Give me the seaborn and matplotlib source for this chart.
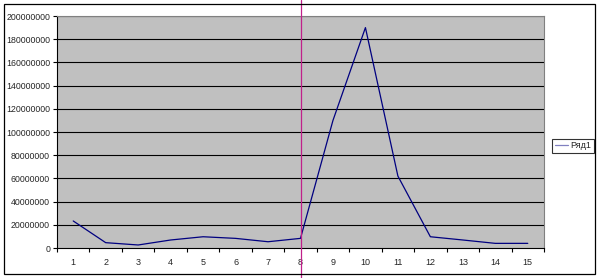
import matplotlib
matplotlib.use("Agg")
import matplotlib.pyplot as plt
import matplotlib.transforms as mtrans
from matplotlib.patches import Rectangle
import seaborn as sns
import pandas as pd

categories = list(range(1, 16))
values = [23300000, 4600000, 2600000, 6900000, 9700000, 8300000, 5400000, 8300000,
          110000000, 190000000, 62000000, 9700000, 6900000, 4000000, 4000000]
series_name = "Ряд1"
y_ticks = list(range(0, 200000001, 20000000))
marker_category = 8

sns.set_theme(style="white")
plt.rcParams['font.family'] = ['Liberation Sans', 'DejaVu Sans']

df = pd.DataFrame({"x": categories, "y": values, "s": series_name})

fig = plt.figure(figsize=(6, 2.78), dpi=100)
fig.patch.set_facecolor("white")
ax = fig.add_axes([57/600, 30/278, (544-57)/600, (248-16)/278])
ax.set_facecolor("#c0c0c0")

sns.lineplot(data=df, x="x", y="y", hue="s", palette=["#000080"], linewidth=0.9, ax=ax)

ax.set_xlim(0.5, 15.5)
ax.set_ylim(0, 200000000)
ax.set_yticks(y_ticks)
ax.set_yticklabels([str(v) for v in y_ticks], fontsize=6.3)
ax.set_xticks(categories)
ax.set_xticklabels([str(c) for c in categories], fontsize=6.5)
ax.set_xticks([c + 0.5 for c in [0] + categories], minor=True)
ax.tick_params(axis="x", which="major", length=0, pad=7)
ax.tick_params(axis="x", which="minor", length=3, width=0.8, color="black", direction="out", bottom=True)
ax.tick_params(axis="y", which="major", length=3, width=0.8, color="black", direction="out", left=True, pad=2)
ax.set_xlabel("")
ax.set_ylabel("")
for yv in y_ticks[1:]:
    ax.axhline(yv, color="black", linewidth=0.8, zorder=1)
for name, sp in ax.spines.items():
    sp.set_visible(True)
    sp.set_color("#808080")
    sp.set_linewidth(0.8)
ax.spines["left"].set_color("black")
ax.spines["bottom"].set_color("black")

leg = ax.legend(loc="center left", bbox_to_anchor=(552/600, 132/278), bbox_transform=fig.transFigure,
                frameon=True, fontsize=6.5, handlelength=1.5, borderpad=0.3, fancybox=False,
                handletextpad=0.2, borderaxespad=0)
leg.get_frame().set_edgecolor("black")
leg.get_frame().set_linewidth(0.8)
for ln in leg.get_lines():
    ln.set_color("#8080c0")

fig.patches.append(Rectangle((4/600, 4/278), 591/600, 270/278, transform=fig.transFigure,
                             fill=False, edgecolor="black", linewidth=0.9))

trans = mtrans.blended_transform_factory(ax.transData, fig.transFigure)
ax.plot([marker_category, marker_category], [0, 1], transform=trans, color="#c0208a",
        linewidth=0.9, clip_on=False, zorder=5)

fig.savefig("out.png", dpi=100)
